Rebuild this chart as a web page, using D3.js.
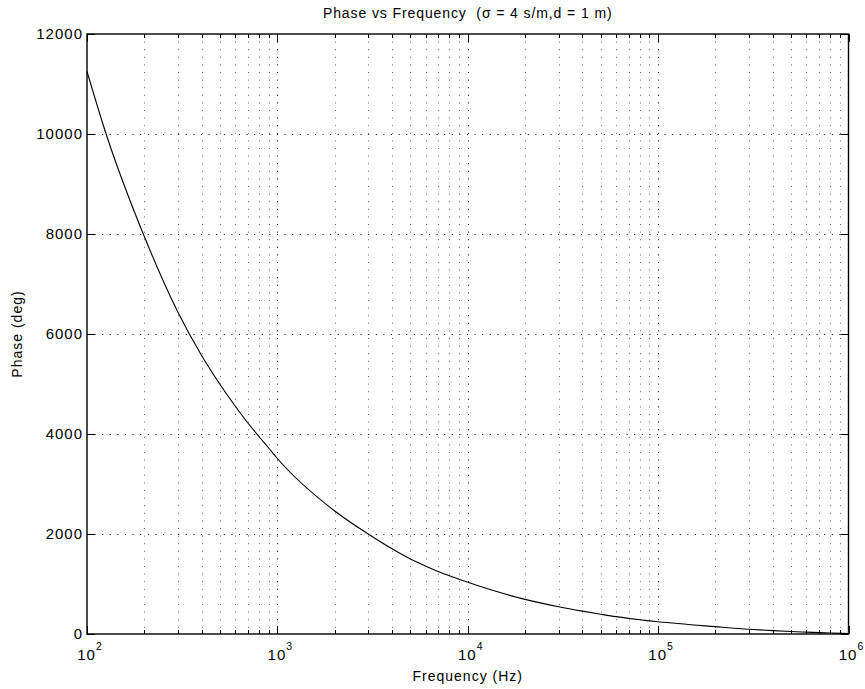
<!DOCTYPE html>
<html>
<head>
<meta charset="utf-8">
<script src="https://cdn.jsdelivr.net/npm/d3@7"></script>
<style>
  body { margin: 0; background: #fff; }
  text { font-family: "Liberation Sans", Arial, sans-serif; fill: #000; }
</style>
</head>
<body>
<script>
// values
var freq = [100, 126, 200, 300, 400, 500, 600, 700, 800, 900, 1000,
  2000, 3000, 4000, 5000, 6000, 7000, 8000, 9000, 10000,
  20000, 30000, 40000, 50000, 60000, 70000, 80000, 90000, 100000,
  200000, 300000, 400000, 500000, 600000, 700000, 800000, 1000000];
var phase = [11250, 10000, 7950, 6440, 5570, 4990, 4560, 4220, 3950, 3720, 3510,
  2460, 2000, 1705, 1500, 1360, 1250, 1165, 1095, 1035,
  693, 545, 457, 395, 347, 312, 285, 263, 245,
  147, 95, 68, 50, 38, 28, 20, 10];
var yTicks = [0, 2000, 4000, 6000, 8000, 10000, 12000];
var xDecades = [2, 3, 4, 5, 6];
var title = "Phase vs Frequency  (\u03c3 = 4 s/m,d = 1 m)";
var xLabel = "Frequency (Hz)";
var yLabel = "Phase (deg)";

var width = 865, height = 689;
var plotL = 87, plotT = 34, plotR = 848.5, plotB = 634;

var svg = d3.select("body").append("svg")
  .attr("width", width)
  .attr("height", height);

var x = d3.scaleLog().domain([1e2, 1e6]).range([plotL, plotR]);
var y = d3.scaleLinear().domain([0, 12000]).range([plotB, plotT]);

// minor x positions 2..9 of each decade
var xMinor = [];
xDecades.slice(0, -1).forEach(function(p) {
  for (var k = 2; k <= 9; k++) xMinor.push(k * Math.pow(10, p));
});
var xMajor = xDecades.map(function(p) { return Math.pow(10, p); });

var grid = svg.append("g")
  .attr("stroke", "#000")
  .attr("stroke-width", 1)
  .attr("stroke-dasharray", "1,6.6");

grid.selectAll(".vx")
  .data(xMinor.concat(xMajor.slice(1, -1)))
  .enter().append("line")
  .attr("x1", function(d) { return Math.round(x(d)) + 0.5; })
  .attr("x2", function(d) { return Math.round(x(d)) + 0.5; })
  .attr("y1", plotT)
  .attr("y2", plotB)
  .attr("stroke-opacity", function(d) { return xMajor.includes(d) ? 1 : 0.6; });

grid.selectAll(".hy")
  .data(yTicks.slice(1, -1))
  .enter().append("line")
  .attr("x1", plotL)
  .attr("x2", plotR)
  .attr("y1", function(d) { return Math.round(y(d)) + 0.5; })
  .attr("y2", function(d) { return Math.round(y(d)) + 0.5; });

// curve
var line = d3.line()
  .x(function(d, i) { return x(freq[i]); })
  .y(function(d) { return y(d); })
  .curve(d3.curveMonotoneX);

svg.append("path")
  .datum(phase)
  .attr("d", line)
  .attr("fill", "none")
  .attr("stroke", "#000")
  .attr("stroke-width", 1.1);

// ticks (inward, all four sides)
var ticks = svg.append("g").attr("stroke", "#000").attr("stroke-width", 1);
var majorLen = 8, minorLen = 4;

xMajor.forEach(function(d) {
  var px = Math.round(x(d)) + 0.5;
  ticks.append("line").attr("x1", px).attr("x2", px).attr("y1", plotB).attr("y2", plotB - majorLen);
  ticks.append("line").attr("x1", px).attr("x2", px).attr("y1", plotT).attr("y2", plotT + majorLen);
});
xMinor.forEach(function(d) {
  var px = Math.round(x(d)) + 0.5;
  ticks.append("line").attr("x1", px).attr("x2", px).attr("y1", plotB).attr("y2", plotB - minorLen);
  ticks.append("line").attr("x1", px).attr("x2", px).attr("y1", plotT).attr("y2", plotT + minorLen);
});
yTicks.forEach(function(d) {
  var py = Math.round(y(d)) + 0.5;
  ticks.append("line").attr("x1", plotL).attr("x2", plotL + majorLen).attr("y1", py).attr("y2", py);
  ticks.append("line").attr("x1", plotR).attr("x2", plotR - majorLen).attr("y1", py).attr("y2", py);
});

// frame
svg.append("rect")
  .attr("x", plotL).attr("y", plotT)
  .attr("width", plotR - plotL).attr("height", plotB - plotT)
  .attr("fill", "none")
  .attr("stroke", "#000")
  .attr("stroke-width", 1.4);

// y tick labels
svg.selectAll(".ylab")
  .data(yTicks)
  .enter().append("text")
  .attr("x", plotL - 4)
  .attr("y", function(d) { return y(d); })
  .attr("dy", "0.35em")
  .attr("text-anchor", "end")
  .style("font-size", "15px")
  .style("letter-spacing", "1px")
  .text(function(d) { return d; });

// x tick labels 10^n
var xl = svg.selectAll(".xlab")
  .data(xDecades)
  .enter().append("text")
  .attr("x", function(d) { return x(Math.pow(10, d)) + 3; })
  .attr("y", plotB + 26)
  .attr("text-anchor", "middle")
  .style("font-size", "15px")
  .style("letter-spacing", "1px");
xl.append("tspan").text("10");
xl.append("tspan")
  .attr("dy", -10)
  .style("font-size", "10.5px")
  .text(function(d) { return d; });

// titles
svg.append("text")
  .attr("x", (plotL + plotR) / 2)
  .attr("y", 18)
  .attr("text-anchor", "middle")
  .style("font-size", "14px")
  .style("letter-spacing", "0.9px")
  .style("white-space", "pre")
  .text(title);

svg.append("text")
  .attr("x", (plotL + plotR) / 2)
  .attr("y", 681)
  .attr("text-anchor", "middle")
  .style("font-size", "14px")
  .style("letter-spacing", "1px")
  .text(xLabel);

svg.append("text")
  .attr("transform", "translate(22," + (plotT + plotB) / 2 + ") rotate(-90)")
  .attr("text-anchor", "middle")
  .style("font-size", "14px")
  .style("letter-spacing", "1px")
  .text(yLabel);
</script>
</body>
</html>
